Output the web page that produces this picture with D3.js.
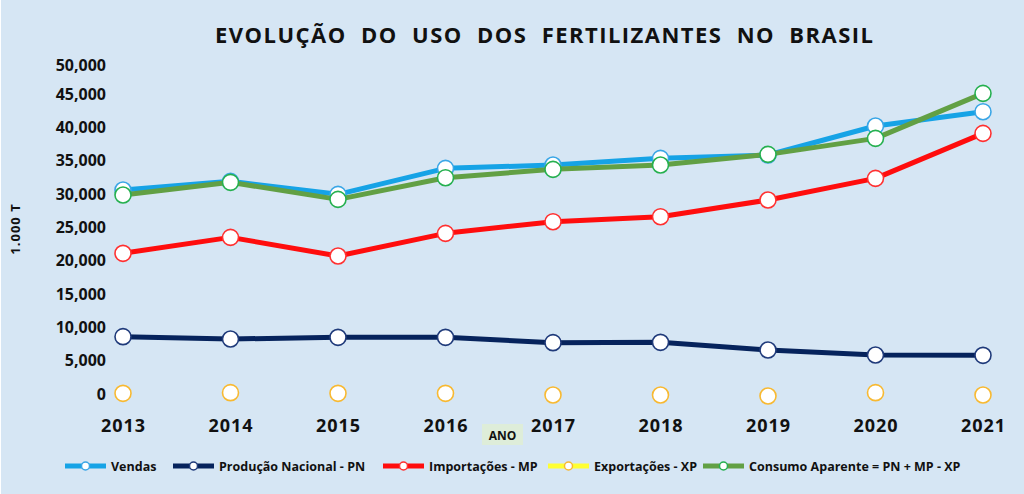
<!DOCTYPE html>
<html><head><meta charset="utf-8">
<script src="https://cdn.jsdelivr.net/npm/d3@7"></script>
<style>
html,body{margin:0;padding:0;background:#d6e6f4;}
svg{display:block;font-family:"Open Sans",sans-serif;}
</style></head>
<body>
<svg id="chart" width="1024" height="494"></svg>
<script>
const years = ["2013","2014","2015","2016","2017","2018","2019","2020","2021"];
const vendas = [30600,31900,29950,33850,34350,35350,35850,40200,42350];
const producao = [8600,8250,8500,8500,7700,7750,6600,5850,5800];
const importacoes = [21100,23500,20700,24100,25850,26600,29100,32350,39100];
const exportacoes = [100,200,100,100,-150,-150,-300,200,-150];
const consumo = [29850,31750,29200,32450,33700,34350,35950,38350,45100];
const yTicks = [0,5000,10000,15000,20000,25000,30000,35000,40000,45000,50000];
const seriesNames = ["Vendas","Produção Nacional - PN","Importações - MP","Exportações - XP","Consumo Aparente = PN + MP - XP"];

const series = [
  {name: seriesNames[0], values: vendas, line: "#16a3e6", mark: "#3aa6e6", showLine: true},
  {name: seriesNames[1], values: producao, line: "#06235c", mark: "#1f3a7a", showLine: true},
  {name: seriesNames[2], values: importacoes, line: "#ff0d0d", mark: "#ff3030", showLine: true},
  {name: seriesNames[3], values: exportacoes, line: "#ffff33", mark: "#f8b931", showLine: false},
  {name: seriesNames[4], values: consumo, line: "#62a044", mark: "#25b04f", showLine: true}
];

const svg = d3.select("#chart");
svg.append("rect").attr("width",1024).attr("height",494).attr("fill","#d6e6f4");
svg.append("rect").attr("x",0).attr("y",0).attr("width",1).attr("height",494).attr("fill","#ffffff");

const x = d3.scalePoint().domain(years).range([123, 983]);
const y = d3.scaleLinear().domain([0, 50000]).range([394, 60.7]);

// title
svg.append("text").attr("x",215).attr("y",43)
  .attr("textLength",658).attr("lengthAdjust","spacing")
  .style("font-size","22px").style("font-weight","700").attr("fill","#111")
  .style("white-space","pre")
  .text("EVOLUÇÃO  DO  USO  DOS  FERTILIZANTES  NO  BRASIL");

// y axis
const yAxis = svg.append("g").attr("transform","translate(112,0)")
  .call(d3.axisLeft(y).tickValues(yTicks).tickFormat(d3.format(",")).tickSize(0).tickPadding(6));
yAxis.select(".domain").remove();
yAxis.selectAll("text").style("font-size","16px").style("font-weight","700")
  .style("font-family","'Open Sans',sans-serif").attr("fill","#111");
yAxis.selectAll(".tick").filter(d => d === 50000).select("text").attr("dy","0.6em");

// x axis
const xAxis = svg.append("g").attr("transform","translate(0,412)")
  .call(d3.axisBottom(x).tickSize(0).tickPadding(7));
xAxis.select(".domain").remove();
xAxis.selectAll("text").style("font-size","18px").style("font-weight","700")
  .style("letter-spacing","1px").style("font-family","'Open Sans',sans-serif").attr("fill","#111");

// y title
svg.append("text").attr("transform","translate(20,229) rotate(-90)")
  .attr("text-anchor","middle").style("letter-spacing","1px")
  .style("font-size","13px").style("font-weight","700")
  .attr("fill","#111").text("1.000 T");

// x title box
svg.append("rect").attr("x",482).attr("y",424).attr("width",41).attr("height",21).attr("fill","#deedd9");
svg.append("text").attr("x",502.5).attr("y",440).attr("text-anchor","middle")
  .style("font-size","12px").style("font-weight","700").attr("fill","#111").text("ANO");

// series
const line = d3.line().x((d,i) => x(years[i])).y(d => y(d));
series.forEach(s => {
  const g = svg.append("g");
  if (s.showLine) {
    g.append("path").datum(s.values).attr("d", line).attr("fill","none")
      .attr("stroke", s.line).attr("stroke-width",5).attr("stroke-linejoin","round");
  }
  g.selectAll("circle").data(s.values).join("circle")
    .attr("cx",(d,i) => x(years[i])).attr("cy", d => y(d)).attr("r",8)
    .attr("fill","#ffffff").attr("stroke", s.mark).attr("stroke-width",1.6);
});

// legend
const legendX = [65, 173, 383, 548, 703];
const lg = svg.append("g");
series.forEach((s,i) => {
  const lx = legendX[i], ly = 466;
  lg.append("line").attr("x1",lx).attr("x2",lx+41).attr("y1",ly).attr("y2",ly)
    .attr("stroke", s.line).attr("stroke-width",5);
  lg.append("circle").attr("cx",lx+20.5).attr("cy",ly).attr("r",4)
    .attr("fill","#fff").attr("stroke", s.mark).attr("stroke-width",1.5);
  lg.append("text").attr("x",lx+46).attr("y",ly+4.5)
    .style("font-size","12.5px").style("font-weight","700").attr("fill","#111").text(s.name);
});
</script>
</body></html>
